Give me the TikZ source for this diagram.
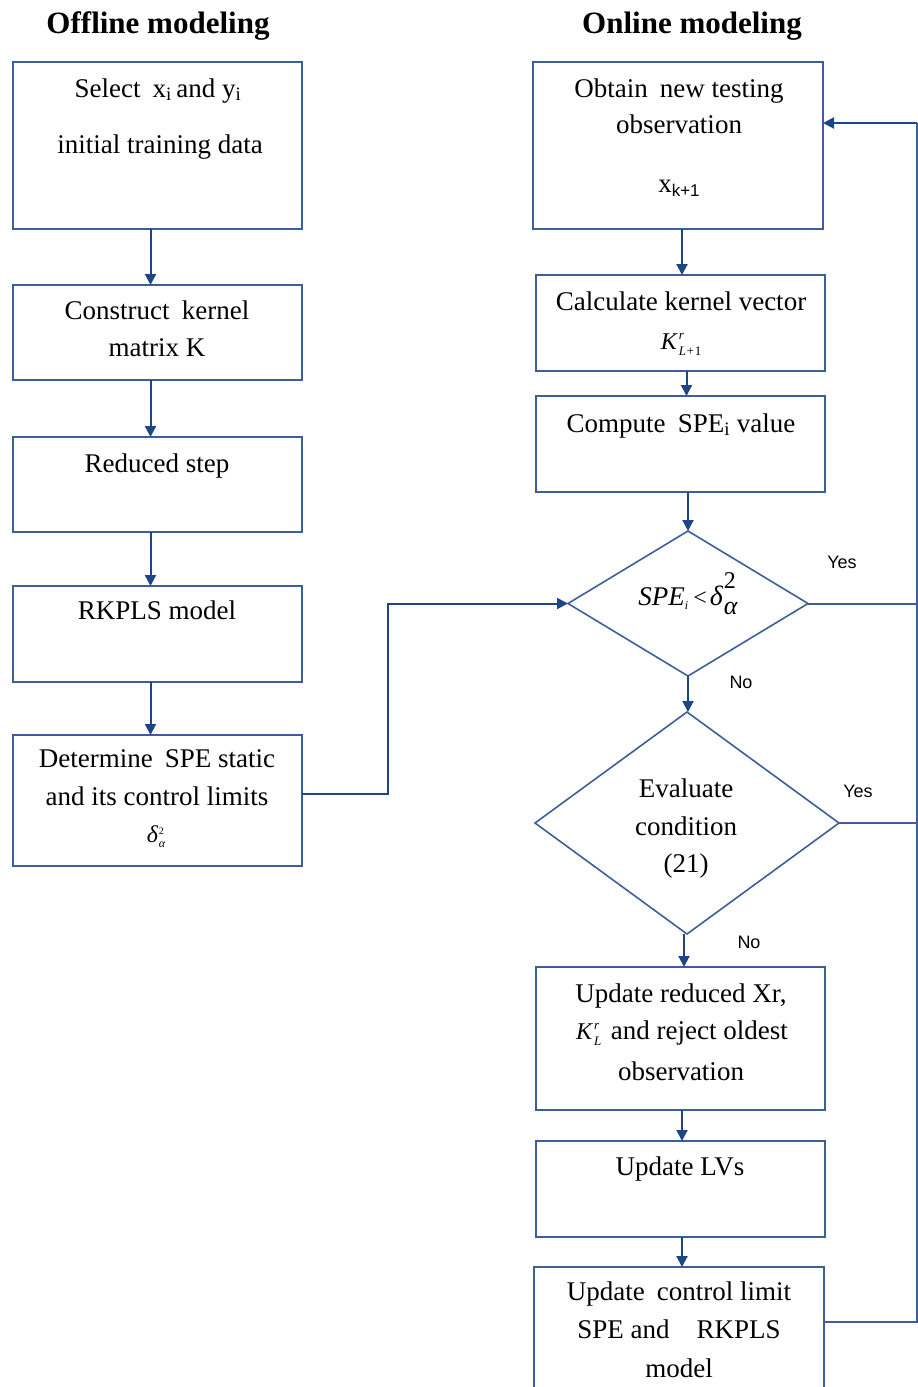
\documentclass[tikz,border=0pt]{standalone}
\usepackage{fontspec}
\setmainfont{Liberation Serif}
\newfontfamily\yesnofont{Liberation Sans}
\usetikzlibrary{shapes.geometric,arrows.meta,calc}

\definecolor{boxblue}{RGB}{60,95,155}
\definecolor{arrowblue}{RGB}{30,70,135}

\newcommand{\fs}[1]{\fontsize{#1}{#1}\selectfont}

\begin{document}
\begin{tikzpicture}[x=1pt,y=-1pt,
  box/.style={draw=boxblue, line width=1.6pt, inner sep=0pt, outer sep=0pt, minimum width=289pt},
  dec/.style={diamond, draw=boxblue, line width=1.6pt, inner sep=0pt, outer sep=0pt},
  txt/.style={anchor=base, inner sep=0pt, font=\fs{27}},
  ttl/.style={anchor=base, inner sep=0pt, font=\fs{31}\bfseries},
  yn/.style={anchor=base, inner sep=0pt, font=\yesnofont\fs{18}},
  arr/.style={draw=arrowblue, line width=2pt, -{Triangle[length=11pt,width=11pt]}},
  link/.style={draw=boxblue, line width=2pt},
]
\useasboundingbox (0,0) rectangle (918,1387);

% column headings
\node[ttl] (hoff) at (158,33) {Offline modeling};
\node[ttl] (hon) at (692,33) {Online modeling};

% offline column
\node[box, minimum height=167pt] (L1) at (157.5,145.5) {};
\node[box, minimum height=95pt]  (L2) at (157.5,332.5) {};
\node[box, minimum height=95pt]  (L3) at (157.5,484.5) {};
\node[box, minimum height=96pt]  (L4) at (157.5,634) {};
\node[box, minimum height=131pt] (L5) at (157.5,800.5) {};

\node[txt] (t11) at (158,97) {Select\hspace{0.45em}x\textsubscript{i}\,and y\textsubscript{i}};
\node[txt] (t12) at (160,153) {initial training data};
\node[txt] (t21) at (157,319) {Construct\hspace{0.45em}kernel};
\node[txt] (t22) at (157,356) {matrix K};
\node[txt] (t31) at (157,472) {Reduced step};
\node[txt] (t41) at (157,619) {RKPLS model};
\node[txt] (t51) at (157,767) {Determine\hspace{0.45em}SPE static};
\node[txt] (t52) at (157,805) {and its control limits};
\node[txt] (t53) at (156,842) {{\fs{24}\itshape δ}\kern1pt\rlap{\raisebox{8pt}{\fs{10}2}}\raisebox{-5pt}{\fs{12}\itshape α}};

% online column
\node[box, minimum width=290pt, minimum height=167pt] (R1) at (678,145.5) {};
\node[box, minimum height=96pt]  (R2) at (680.5,323) {};
\node[box, minimum height=96pt]  (R3) at (680.5,444) {};
\node[dec, minimum width=240pt, minimum height=145pt] (D1) at (688,603.5) {};
\node[dec, minimum width=304pt, minimum height=222pt] (D2) at (687,823) {};
\node[box, minimum height=143pt] (R4) at (680.5,1038.5) {};
\node[box, minimum height=96pt]  (R5) at (680.5,1189) {};
\node[box, minimum width=290pt, minimum height=143pt] (R6) at (679,1338.5) {};

\node[txt] (u11) at (679,97) {Obtain\hspace{0.45em}new testing};
\node[txt] (u12) at (679,133) {observation};
\node[txt] (u13) at (679,192) {x\raisebox{-4pt}{\yesnofont\fs{17}k+1}};
\node[txt] (u21) at (681,310) {Calculate kernel vector};
\node[txt] (u22) at (681,349) {{\fs{24}\itshape K}\kern2pt\rlap{\raisebox{10pt}{\fs{13}\itshape r}}\raisebox{-6pt}{\fs{13}\itshape L+}\raisebox{-6pt}{\fs{13}1}};
\node[txt] (u31) at (681,432) {Compute\hspace{0.45em}SPE\textsubscript{i} value};
\node[txt] (u41) at (688,605) {{\fs{27}\itshape SPE}\raisebox{-4pt}{\fs{12}\itshape i}\hspace{5pt}{\fs{24}<}\hspace{3pt}{\fs{28}\itshape δ}\kern1pt\rlap{\raisebox{17pt}{\fs{24}2}}\raisebox{-9pt}{\fs{26}\itshape α}};
\node[txt] (u51) at (686,797) {Evaluate};
\node[txt] (u52) at (686,835) {condition};
\node[txt] (u53) at (686,872) {(21)};
\node[txt] (u61) at (681,1002) {Update reduced Xr,};
\node[txt] (u62) at (682,1039) {{\fs{24}\itshape K}\kern2pt\rlap{\raisebox{10pt}{\fs{13}\itshape r}}\raisebox{-6pt}{\fs{13}\itshape L}\hspace{0.35em}and reject oldest};
\node[txt] (u63) at (681,1080) {observation};
\node[txt] (u71) at (680,1175) {Update LVs};
\node[txt] (u81) at (679,1300) {Update\hspace{0.45em}control limit};
\node[txt] (u82) at (679,1338) {SPE and\hspace{1em}RKPLS};
\node[txt] (u83) at (679,1377) {model};

% branch labels
\node[yn] (y1) at (842,568) {Yes};
\node[yn] (n1) at (741,688) {No};
\node[yn] (y2) at (858,797) {Yes};
\node[yn] (n2) at (749,948) {No};

% offline flow
\draw[arr] ([xshift=-7pt]L1.south) -- ([xshift=-7pt]L2.north);
\draw[arr] ([xshift=-7pt]L2.south) -- ([xshift=-7pt]L3.north);
\draw[arr] ([xshift=-7pt]L3.south) -- ([xshift=-7pt]L4.north);
\draw[arr] ([xshift=-7pt]L4.south) -- ([xshift=-7pt]L5.north);

% online flow
\draw[arr] ([xshift=4pt]R1.south) -- ([xshift=4pt]R1.south |- R2.north);
\draw[arr] ([xshift=6pt]R2.south) -- ([xshift=6pt]R2.south |- R3.north);
\draw[arr] (R3.south -| D1.north) -- (D1.north);
\draw[arr] (D1.south) -- (D1.south |- D2.north);
\draw[arr] ([xshift=-3pt]D2.south) -- ([xshift=-3pt]D2.south |- R4.north);
\draw[arr] ([xshift=1.5pt]R4.south) -- ([xshift=1.5pt]R4.south |- R5.north);
\draw[arr] ([xshift=1.5pt]R5.south) -- ([xshift=1.5pt]R5.south |- R6.north);

% control limit handed to the online test
\coordinate (j1) at (388,793.5);
\draw[arr] (L5.east |- j1) -- (j1) -- (j1 |- D1.west) -- (D1.west);

% return path to the next observation
\coordinate (rt) at (917,123);
\coordinate (rb) at (917,1322);
\draw[link] (R6.east |- rb) -- (rb) -- (rt);
\draw[arr] (rt) -- (R1.east |- rt);
\draw[link] (D1.east) -- (D1.east -| rt);
\draw[link] (D2.east) -- (D2.east -| rt);
\end{tikzpicture}
\end{document}
